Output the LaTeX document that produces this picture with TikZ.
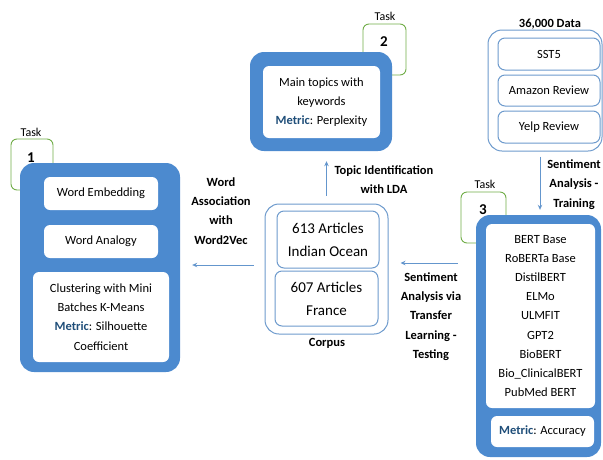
\documentclass[tikz,border=0pt]{standalone}
\usepackage{fontspec}
\setmainfont{Carlito}
\usetikzlibrary{arrows.meta}
\definecolor{boxblue}{RGB}{76,138,207}
\definecolor{lineblue}{RGB}{110,155,205}
\definecolor{arrowblue}{RGB}{100,150,205}
\definecolor{taskgreen}{RGB}{112,173,71}
\definecolor{metricblue}{RGB}{31,78,121}
\newcommand{\metric}{\textcolor{metricblue}{\textbf{Metric}}}

\begin{document}
\begin{tikzpicture}[x=1pt,y=-1pt,
    txt/.style={font=\fontsize{12.5}{19.2}\selectfont,align=center},
    lbl/.style={font=\fontsize{12.5}{19.2}\selectfont\bfseries,align=center},
    bluebox/.style={fill=boxblue,rounded corners=14pt,inner sep=0pt},
    whitebox/.style={txt,fill=white,rounded corners=6pt,inner sep=0pt},
    outlinebox/.style={draw=lineblue,line width=1pt,fill=white,rounded corners=14pt,inner sep=0pt},
    innerbox/.style={txt,draw=lineblue,line width=1pt,rounded corners=7pt,inner sep=0pt},
    taskbox/.style={draw=taskgreen,line width=0.9pt,fill=white,rounded corners=6pt,inner sep=0pt},
    tasklbl/.style={font=\fontsize{12}{14}\selectfont},
    tasknum/.style={font=\fontsize{15}{17}\selectfont\bfseries},
    flow/.style={draw=arrowblue,line width=1pt,-{Stealth[length=5pt,width=4.5pt]}}]
    \useasboundingbox (0,0) rectangle (603,459);

    \begin{scope}
        \node[taskbox,minimum width=42pt,minimum height=51pt] (frame1) at (32,164.5) {};
        \node[tasklbl] (task1) at (31,132) {Task};
        \node[bluebox,minimum width=160pt,minimum height=209pt] (task1box) at (100,267.5) {};
        \node[tasknum] (num1) at (31,158) {1};
        \node[whitebox,minimum width=114pt,minimum height=33pt] (embed) at (101,193.5) {Word Embedding};
        \node[whitebox,minimum width=114pt,minimum height=33pt] (analogy) at (101,241.5) {Word Analogy};
        \node[whitebox,minimum width=136pt,minimum height=90pt] (cluster) at (101,317)
            {Clustering with Mini\\Batches K-Means\\\metric: Silhouette\\Coefficient};
    \end{scope}

    \begin{scope}
        \node[taskbox,minimum width=43pt,minimum height=51pt] (frame2) at (384.5,49.5) {};
        \node[tasklbl] (task2) at (385,16) {Task};
        \node[bluebox,minimum width=142pt,minimum height=99pt] (topbox) at (321,101.5) {};
        \node[tasknum] (num2) at (384,42) {2};
        \node[whitebox,minimum width=117pt,minimum height=72pt] (topics) at (321.5,102)
            {Main topics with\\keywords\\\metric: Perplexity};
    \end{scope}

    \begin{scope}
        \node[outlinebox,minimum width=123pt,minimum height=130pt] (corpus) at (326.5,269) {};
        \node[innerbox,font=\fontsize{15}{23}\selectfont,minimum width=102pt,minimum height=57pt] (india) at (328,239.5)
            {613 Articles\\Indian Ocean};
        \node[innerbox,font=\fontsize{15}{23}\selectfont,minimum width=103pt,minimum height=55pt] (france) at (326.5,298.5)
            {607 Articles\\France};
        \node[lbl] (corpuslbl) at (327,343) {Corpus};
    \end{scope}

    \begin{scope}
        \node[outlinebox,minimum width=114pt,minimum height=121pt] (data) at (545,90.5) {};
        \node[innerbox,minimum width=102pt,minimum height=32pt] (sst) at (549,54) {SST5};
        \node[innerbox,minimum width=102pt,minimum height=31pt] (amazon) at (549,90.5) {Amazon Review};
        \node[innerbox,minimum width=102pt,minimum height=32pt] (yelp) at (549,127) {Yelp Review};
        \node[lbl] (datalbl) at (550,24) {36,000 Data};
    \end{scope}

    \begin{scope}
        \node[taskbox,minimum width=45pt,minimum height=51pt] (frame3) at (483.5,217.5) {};
        \node[tasklbl] (task3) at (485,184) {Task};
        \node[bluebox,minimum width=125pt,minimum height=242pt] (task3box) at (538.5,336) {};
        \node[tasknum] (num3) at (483,210) {3};
        \node[whitebox,minimum width=109pt,minimum height=184pt] (models) at (540.5,316)
            {BERT Base\\RoBERTa Base\\DistilBERT\\ELMo\\ULMFIT\\GPT2\\BioBERT\\Bio\_ClinicalBERT\\PubMed BERT};
        \node[whitebox,minimum width=103pt,minimum height=31pt] (accuracy) at (542.5,431.5) {\metric: Accuracy};
    \end{scope}

    \draw[flow,shorten <=11pt,shorten >=12pt] ([yshift=4pt]corpus.west) -- ([yshift=4pt]corpus.west -| task1box.east);
    \node[lbl] (assoc) at (221,211) {Word\\Association\\with\\Word2Vec};
    \draw[flow,shorten <=8pt,shorten >=10pt] (corpus.north) -- (corpus.north |- topbox.south);
    \node[lbl] (lda) at (384,179.5) {Topic Identification\\with LDA};
    \draw[flow,shorten <=18pt,shorten >=12pt] ([yshift=6pt]corpus.east -| task3box.west) -- ([yshift=6pt]corpus.east);
    \node[lbl] (testing) at (431,316.5) {Sentiment\\Analysis via\\Transfer\\Learning -\\Testing};
    \draw[flow,shorten <=5pt,shorten >=5pt] ([xshift=-5pt]data.south) -- ([xshift=-5pt]data.south |- task3box.north);
    \node[lbl] (training) at (574,184.5) {Sentiment\\Analysis -\\Training};
\end{tikzpicture}
\end{document}
